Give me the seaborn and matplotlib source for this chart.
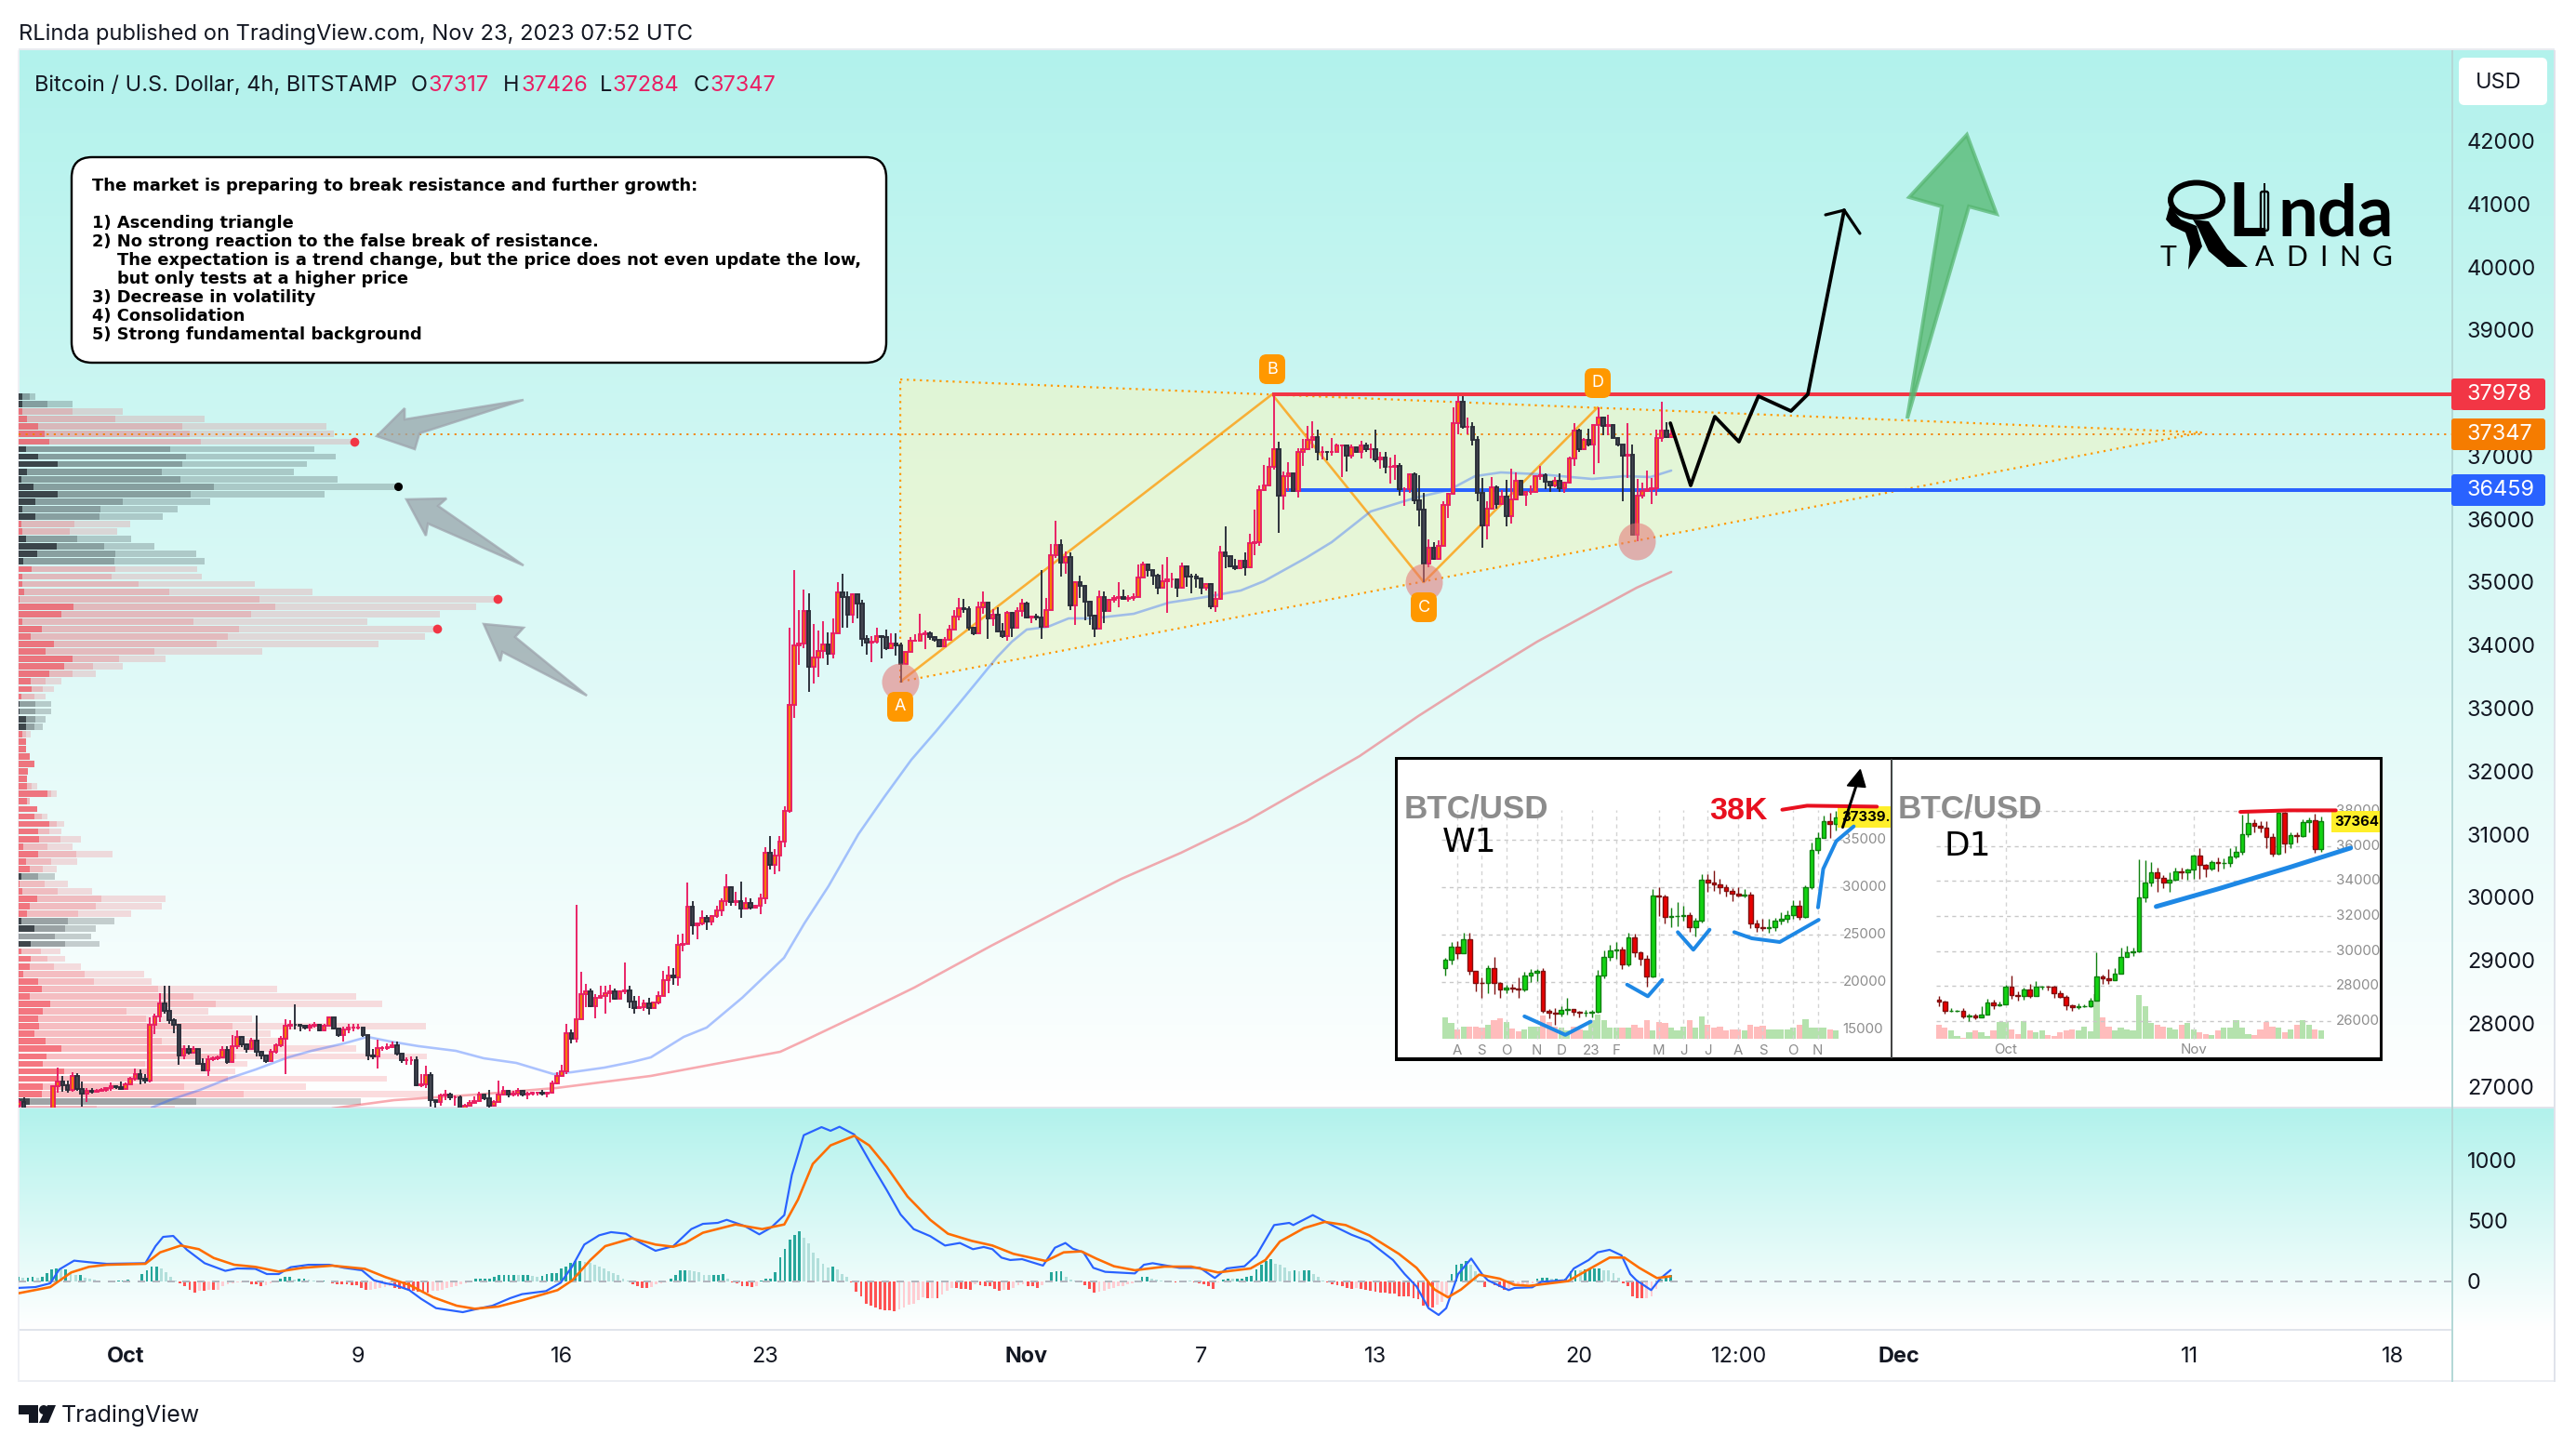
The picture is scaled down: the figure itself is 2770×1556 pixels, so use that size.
import numpy as np
import matplotlib
matplotlib.use("Agg")
import matplotlib.pyplot as plt
import seaborn as sns
from matplotlib.colors import LinearSegmentedColormap
from matplotlib.patches import FancyBboxPatch, Polygon, Ellipse, Rectangle
from matplotlib.transforms import Affine2D

W, H = 2770, 1556
PT = 0.72  # points per pixel at dpi 100

# ---- 4h candles (open = previous close)
closes = [
    26750, 26650, 26500, 26450, 26400, 26380, 26420,
    27000, 27083, 27024, 26950, 27162, 26965, 26880, 26925, 26920, 26935,
    26945, 26975, 27000, 26990, 26965, 27040, 27122, 27196, 27120, 27088,
    27983, 28116, 28313, 28195, 28057, 27983, 27491, 27590, 27540, 27590,
    27353, 27260, 27428, 27445, 27460, 27575, 27393, 27640, 27787, 27665,
    27600, 27722, 27555, 27490, 27410, 27555, 27650, 27762, 27960, 27982,
    27975, 27960, 27930, 27960, 27980, 27885, 27970, 28090, 27920, 27820,
    27900, 27935, 27935, 27940, 27820, 27490, 27477, 27610, 27610, 27625,
    27660, 27515, 27417, 27420, 27425, 27024, 27040, 27180, 26778, 26750,
    26860, 26870, 26825, 26835, 26650, 26700, 26740, 26770, 26867, 26815,
    26690, 26750, 26870, 26925, 26875, 26880, 26935, 26875, 26885, 26895,
    26895, 26885, 26895, 27050, 27170, 27245, 27850, 27762,
    28072, 28470, 28505, 28273, 28406, 28436, 28485, 28505, 28397, 28505,
    28520, 28347, 28250, 28259, 28313, 28250, 28333, 28436, 28692, 28766,
    28731, 29248, 29263, 29858, 29563, 29587, 29676, 29617, 29710, 29797,
    29934, 30158, 29922, 29934, 29823, 29912, 29833, 29863, 29986, 30709,
    30512, 30660, 30891, 31373, 33056, 33991, 34025, 34537, 33651, 33809,
    33907, 34005, 33858,
    34192, 34832, 34758, 34487, 34802, 34660, 34103, 34040, 34055, 34143,
    34123, 33946, 34030, 33995, 33700, 33897, 34064, 34074, 34177, 34182,
    34128, 34080, 33980, 34079, 34251, 34448, 34580, 34570, 34276, 34192,
    34605, 34669, 34423, 34487, 34212, 34143, 34507, 34276, 34546, 34654,
    34433, 34448, 34433, 34286, 34556, 35432, 35589, 35309, 35392, 34635,
    35000, 34940, 34684, 34472, 34261, 34767, 34537, 34718, 34743, 34767,
    34733, 34753, 34767, 35078, 35284, 35186, 35097, 34915, 35014, 35038,
    35040, 34915, 35245, 35087,
    35085, 35060, 34914, 34963, 34619, 34727, 35470, 35406, 35258, 35219,
    35332, 35234, 35617, 35637, 36454, 36538, 36823, 37103, 36375, 36685,
    36720, 36439, 37064, 37103, 37251, 37300, 37064, 37069, 37064, 37069,
    37162, 37167, 37000, 37138, 37064, 37162, 37103, 37113, 36946, 36980,
    36833, 36833, 36847, 36478, 36478, 36710, 36291, 36144, 35293, 35553,
    35371, 35578,
    36227, 36400, 37521, 37866, 37457, 37457, 37251, 36414, 35898, 36159,
    36498, 36242, 36355, 36045, 36316, 36611, 36380, 36424, 36424, 36675,
    36700, 36587, 36527, 36611, 36488, 36572, 36956, 37408, 37113, 37251,
    37187, 37487, 37605, 37472, 37497, 37290, 37177, 37005, 37015, 35750,
    36375, 36449, 36473, 36488, 37290, 37408, 37300, 37347,
]
highs = [
    26800, 26830, 26650, 26550, 26500, 26500, 26600,
    27020, 27294, 27162, 27088, 27220, 27210, 27075, 26975, 26975, 26960,
    26975, 26990, 27060, 27020, 27075, 27060, 27150, 27280, 27270, 27190,
    28100, 28156, 28480, 28592, 28600, 28080, 27990, 27660, 27650, 27640,
    27560, 27450, 27490, 27480, 27490, 27640, 27640, 27820, 27890, 27800,
    27680, 27770, 28125, 27560, 27480, 27590, 27680, 27800, 28060, 28050,
    28300, 27990, 27965, 28000, 28020, 27990, 28000, 28110, 28100, 27920,
    27950, 27990, 27990, 27990, 27930, 27790, 27590, 27740, 27640, 27690,
    27710, 27720, 27500, 27460, 27470, 27480, 27200, 27330, 27230, 26790,
    26890, 26940, 26900, 26865, 26860, 26730, 26780, 26850, 26920, 26870,
    26950, 26790, 27100, 27000, 26950, 26930, 26970, 26950, 26920, 26920,
    26920, 26950, 26920, 27090, 27220, 27340, 28000, 27900,
    29887, 28815, 28633, 28554, 28470, 28604, 28593, 28618, 28559, 28530,
    28972, 28603, 28430, 28431, 28372, 28411, 28340, 28515, 28830, 28913,
    28874, 29405, 29420, 30232, 29937, 29600, 29789, 29715, 29720, 29873,
    29986, 30365, 30178, 30084, 30247, 29996, 29986, 29880, 30055, 30793,
    30980, 30773, 30980, 31447, 34276, 35186, 34561, 34881, 34827, 34340,
    34227, 34374, 34202,
    34423, 35004, 35127, 34851, 34830, 34680, 34719, 34153, 34143, 34276,
    34163, 34241, 34192, 34192, 34044, 33900, 34128, 34177, 34497, 34227,
    34212, 34140, 34000, 34130, 34325, 34556, 34743, 34733, 34610, 34290,
    34684, 34851, 34680, 34571, 34605, 34350, 34546, 34530, 34596, 34733,
    34684, 34470, 34497, 35186, 34743, 35604, 35973, 35678, 35481, 35471,
    35020, 35097, 34950, 34704, 34480, 34866, 34851, 34730, 34793, 35004,
    34881, 34790, 34820, 35274, 35324, 35300, 35110, 35140, 35274, 35392,
    35146, 35040, 35309, 35260,
    35135, 35135, 35070, 34980, 34978, 34850, 35568, 35883, 35410, 35371,
    35340, 35470, 35765, 36144, 36537, 36857, 36980, 37979, 37226, 36759,
    36897, 36730, 37128, 37275, 37472, 37546, 37413, 37152, 37080, 37285,
    37202, 37180, 37170, 37177, 37140, 37241, 37210, 37200, 37413, 37064,
    37064, 36980, 37015, 36882, 36500, 36720, 36734, 36695, 36414, 35676,
    35640, 35666,
    36277, 36420, 37767, 37964, 37969, 37605, 37536, 37310, 36646, 36277,
    36660, 36527, 36454, 36621, 36793, 36734, 36620, 36440, 36537, 36690,
    36842, 36720, 36590, 36670, 36720, 36590, 36990, 37521, 37440, 37280,
    37438, 37500, 37767, 37620, 37654, 37510, 37300, 37190, 37521, 37177,
    36640, 36572, 36769, 36650, 37423, 37856, 37536, 37426,
]
lows = [
    26650, 26500, 26400, 26350, 26300, 26300, 26350,
    26500, 26900, 26916, 26900, 26916, 26925, 26680, 26755, 26880, 26900,
    26910, 26920, 26925, 26960, 26945, 26960, 27040, 27090, 27040, 27050,
    27060, 27836, 28020, 28150, 28000, 27850, 27340, 27432, 27500, 27530,
    27340, 27250, 27170, 27400, 27420, 27450, 27360, 27380, 27600, 27620,
    27530, 27590, 27470, 27430, 27370, 27410, 27520, 27620, 27190, 27900,
    27900, 27880, 27900, 27880, 27940, 27870, 27880, 27960, 27900, 27790,
    27720, 27850, 27880, 27900, 27790, 27420, 27430, 27290, 27570, 27580,
    27610, 27490, 27370, 27340, 27350, 27000, 26990, 26970, 26680, 26640,
    26700, 26790, 26790, 26700, 26600, 26630, 26690, 26720, 26790, 26790,
    26650, 26680, 26780, 26860, 26830, 26840, 26850, 26850, 26800, 26860,
    26860, 26860, 26830, 26880, 27040, 27160, 27200, 27680,
    27700, 28060, 28259, 28259, 28082, 28387, 28150, 28338, 28380, 28440,
    28470, 28250, 28160, 28240, 28200, 28140, 28240, 28308, 28436, 28485,
    28618, 28593, 29145, 29243, 29405, 29341, 29553, 29479, 29553, 29676,
    29700, 29873, 29873, 29873, 29676, 29809, 29809, 29820, 29735, 29897,
    30448, 30365, 30414, 30798, 31349, 32849, 33686, 33956, 33258, 33390,
    33499, 33784, 33686,
    33784, 34200, 34276, 34276, 34350, 34423, 33980, 33848, 33734, 34030,
    33793, 33930, 34000, 33833, 33405, 33690, 33890, 34050, 34060, 33941,
    34090, 34060, 33970, 33970, 34070, 34250, 34389, 34520, 34227, 34153,
    34190, 34497, 34103, 34300, 34200, 34113, 34064, 34128, 34270, 34448,
    34420, 34350, 34400, 34103, 34280, 34550, 35383, 35087, 35137, 34561,
    34325, 34743, 34399, 34325, 34128, 34250, 34349, 34530, 34669, 34605,
    34720, 34690, 34700, 34760, 35070, 35087, 34950, 34807, 34910, 34507,
    34915, 34768, 34900, 34925,
    34830, 34914, 34815, 34870, 34570, 34535, 34720, 35224, 35240, 35194,
    35200, 35100, 35220, 35421, 35578, 36440, 36520, 36783, 35785, 36154,
    36449, 36430, 36340, 36842, 37090, 37128, 36931, 36946, 36930, 37000,
    37060, 36670, 36759, 36960, 37050, 36965, 37070, 36956, 36906, 36798,
    36724, 36562, 36621, 36365, 36208, 36414, 36240, 35883, 35000, 35234,
    35360, 35360,
    35570, 36020, 36390, 37350, 37430, 37350, 37162, 36286, 35539, 35676,
    36150, 36159, 36230, 35888, 35922, 36300, 36370, 36208, 36390, 36410,
    36621, 36473, 36424, 36510, 36430, 36414, 36560, 36842, 37064, 37100,
    37150, 36710, 36882, 37325, 37335, 37280, 37160, 36282, 36650, 35750,
    35642, 36330, 36430, 36242, 36375, 37226, 37290, 37284,
]

# ---- moving averages
ma50_days = [0.9, 1.6, 2.56, 3.52, 4.48, 5.6, 6.4, 7.52, 8.32, 9.12, 10.08, 11.36, 12.32, 13.44,
             14.72, 15.35, 16.47, 17.43, 18.07, 19.2, 19.99, 21.21, 22.65, 23.35, 24.18, 25.21, 26.1,
             27.03, 27.86, 28.66, 29.37, 29.97, 30.49, 31.0, 31.73, 32.44, 33.27, 34.68, 35.89, 37.33,
             38.36, 39.16, 40.6, 41.49, 42.83, 44.4, 45.52, 46.42, 47.31, 48.66, 50.45, 51.57,
             52.46, 53.17]
ma50_vals = [26666, 26799, 26946, 27123, 27271, 27463, 27566, 27684, 27787, 27713, 27640, 27566,
             27448, 27374, 27197, 27227, 27300, 27389, 27463, 27787, 27935, 28407, 29041, 29587,
             30177, 31003, 31593, 32183, 32625, 33068, 33466, 33805, 34056, 34248, 34292, 34425,
             34425, 34498, 34675, 34778, 34867, 35015, 35383, 35634, 36121, 36342, 36460, 36681,
             36740, 36711, 36637, 36681, 36667, 36770]
ma200_days = [7.1, 9.24, 12.09, 14.81, 18.07, 22.52, 23.35, 25.3, 27.13, 29.78, 32.25, 34.26, 36.31,
              38.55, 40.4, 42.45, 44.47, 46.32, 48.56, 51.98, 53.17]
ma200_vals = [26651, 26784, 26873, 26976, 27168, 27551, 27728, 28156, 28569, 29233, 29823, 30295,
              30708, 31209, 31696, 32241, 32876, 33422, 34056, 34911, 35162]

# ---- volume profile, segment ends for each row (relative units, base 46)
profile_dark = [54, 56, 56, 67, 94, 108, 119, 63, 92, 141, 67, 52, 81, 139, 87, 56, 87, 52, 54, 63,
                137, 90, 58, 78, 56, 56, 60, 49, 179, 148, 54, 101, 76, 132, 112, 175, 155, 121, 76, 78,
                52, 49, 49, 65, 63, 56, 65, 65, 74, 85, 69, 67, 67, 116, 67, 90, 85, 119, 92, 96,
                58, 94, 65, 74, 52, 49, 54, 90, 72, 67, 52, 83, 46, 76, 52, 76, 72, 58,
                92, 101, 74, 123, 105, 92, 96, 85, 112, 148, 114, 105, 155, 140, 105, 101, 74, 50]
profile_mid = [72, 116, 175, 280, 441, 458, 486, 412, 450, 441, 390, 435, 517, 461, 298, 244, 240, 181, 170, 188,
               253, 280, 276, 278, 271, 336, 408, 627, 665, 605, 468, 578, 549, 524, 372, 287, 226, 177, 112, 105,
               83, 87, 87, 87, 85, 65, 65, 65, 74, 85, 69, 67, 78, 125, 74, 90, 101, 137, 121, 146,
               116, 184, 125, 105, 94, 108, 139, 246, 233, 190, 164, 157, 134, 159, 99, 116, 132, 204,
               228, 383, 468, 522, 305, 352, 562, 370, 392, 450, 570, 350, 360, 551, 444, 587, 473, 235]
profile_light = [87, 177, 296, 495, 788, 805, 850, 759, 809, 741, 710, 815, 955, 782, 508, 430, 394, 314, 284, 316,
                 372, 473, 493, 477, 488, 616, 753, 1195, 1149, 1060, 885, 1050, 1024, 914, 634, 401, 298, 233, 150, 132,
                 112, 125, 125, 110, 105, 76, 65, 65, 74, 85, 69, 67, 90, 137, 74, 90, 116, 155, 150, 195,
                 175, 273, 188, 137, 134, 164, 222, 401, 392, 316, 276, 233, 220, 240, 146, 157, 195, 349,
                 367, 668, 860, 921, 502, 609, 1028, 654, 690, 860, 1030, 596, 569, 934, 739, 1035, 871, 423]
profile_gray_rows = [0, 1, 7, 8, 9, 10, 11, 12, 13, 14, 15, 16, 19, 20, 21, 22, 41, 42, 43, 44, 64, 70, 71, 72, 73, 94]
profile_red_dots = [6, 27, 31]
profile_black_dots = [12]
profile_top_price = 37942
profile_bin = 118.9

# ---- levels and drawings on the price chart
level_red = 37978
level_blue = 36459
level_last = 37347
triangle_days = [26.65, 71.43, 26.65]
triangle_vals = [38215, 37375, 33421]
abcd_days = [26.65, 39.44, 44.66, 50.64]
abcd_vals = [33421, 37979, 35000, 37773]
circle_days = [26.65, 44.66, 52.0]
circle_vals = [33421, 35000, 35650]
path_days = [53.14, 53.84, 54.67, 55.50, 56.17, 57.29, 57.87, 59.12]
path_vals = [37522, 36534, 37625, 37227, 37950, 37714, 37979, 40900]
head_days = [58.48, 59.12, 59.66]
head_vals = [40826, 40900, 40531]
green_days = [61.29, 62.48, 61.36, 63.34, 64.36, 63.41]
green_vals = [37596, 40959, 41106, 42095, 40841, 40959]
gray_arrow_days = [[13.69, 9.60, 9.60, 8.64, 9.95, 10.11],
                   [13.69, 10.75, 11.04, 9.66, 10.33, 10.40],
                   [15.87, 13.40, 13.69, 12.32, 12.89, 12.96]]
gray_arrow_vals = [[37891, 37581, 37758, 37316, 37109, 37360],
                   [35265, 36209, 36327, 36313, 35737, 35929],
                   [33200, 34130, 34277, 34336, 33746, 33894]]
price_ticks = [42000, 41000, 40000, 39000, 38000, 37000, 36000, 35000, 34000, 33000, 32000, 31000,
               30000, 29000, 28000, 27000]

# ---- MACD
macd_days = [-3.69, -3.10, -2.59, -2.28, -1.77, -1.26, -0.65, 0.68, 1.03, 1.29, 1.64, 2.11, 2.72, 3.43,
             3.84, 4.46, 4.86, 5.27, 5.68, 6.29, 7.01, 7.52, 8.13, 8.54, 8.94, 9.25, 9.76, 10.17, 10.68,
             11.60, 12.21, 12.62, 13.23, 13.64, 14.46, 14.97, 15.37, 15.78, 16.29, 16.70, 17.21, 17.72,
             18.23, 18.84, 19.46, 19.86, 20.37, 20.68, 21.29, 21.80, 22.21, 22.66, 22.92, 23.33, 23.94,
             24.25, 24.56, 25.07, 25.68, 26.19, 26.66, 27.11, 27.68, 28.19, 28.70, 29.15, 29.52, 29.82,
             30.13, 30.43, 30.84, 31.56, 31.97, 32.33, 32.58, 32.95, 33.29, 33.70, 34.72, 35.03, 35.33,
             36.25, 36.96, 37.47, 37.88, 38.49, 38.90, 39.51, 40.03, 40.17, 40.84, 41.55, 42.17, 42.78,
             43.60, 44.00, 44.41, 44.82, 45.17, 45.43, 45.84, 46.29, 46.66, 46.86, 47.58, 47.78, 48.39,
             48.70, 49.52, 49.82, 50.33, 50.64, 51.05, 51.46, 51.76, 51.97, 52.48, 52.79, 53.15]
macd_vals = [-53, -46, -15, 99, 171, 158, 145, 150, 290, 366, 374, 260, 150, 87, 107, 104, 61, 61, 117,
             137, 137, 112, 92, 10, -15, -28, -71, -143, -219, -252, -219, -199, -137, -104, -79, -10, 125,
             303, 379, 405, 392, 316, 252, 290, 430, 473, 481, 506, 456, 387, 443, 545, 875, 1201, 1267,
             1237, 1270, 1206, 952, 748, 550, 430, 372, 295, 316, 265, 283, 265, 196, 176, 183, 130, 277,
             316, 270, 239, 112, 79, 66, 137, 150, 112, 112, 28, 107, 125, 214, 463, 481, 463, 545, 456,
             384, 328, 176, 61, -41, -219, -275, -219, 61, 188, 61, 10, -71, -53, -48, -3, 10, 107, 176,
             239, 260, 214, 61, 10, -71, 23, 94]
signal_days = [-3.69, -2.59, -1.87, -1.26, -0.65, 0.68, 1.19, 1.90, 2.52, 3.03, 3.74, 4.46, 5.27, 6.09,
               7.11, 8.23, 8.94, 9.76, 10.58, 11.39, 12.01, 12.82, 13.64, 14.86, 15.37, 15.99, 16.50,
               17.42, 18.23, 18.84, 19.25, 19.86, 20.98, 21.90, 22.66, 23.13, 23.64, 24.25, 25.07, 25.58,
               26.19, 26.90, 27.68, 28.29, 29.11, 29.82, 30.54, 31.66, 32.27, 32.88, 33.39, 34.0, 34.72,
               35.74, 36.66, 37.58, 38.70, 39.21, 39.71, 40.54, 41.25, 41.97, 42.78, 43.80, 44.41, 45.03,
               45.49, 45.94, 46.56, 47.27, 47.78, 48.29, 49.62, 50.33, 51.05, 51.56, 52.07, 52.68, 53.15]
signal_vals = [-97, -46, 74, 120, 137, 145, 239, 295, 265, 193, 137, 120, 81, 112, 130, 104, 36, -28,
               -130, -199, -224, -206, -155, -71, 10, 176, 290, 354, 303, 285, 316, 400, 468, 430, 468,
               672, 965, 1117, 1196, 1117, 939, 697, 506, 392, 333, 295, 227, 168, 239, 247, 188, 125, 92,
               122, 122, 74, 107, 176, 328, 438, 489, 463, 379, 227, 112, -66, -130, -66, 56, 23, -28, -36,
               3, 99, 196, 196, 112, 28, 43]
hist_vals = [40, 30, 30, 35, 30, 35, 70, 100, 105, 100, 100, 70, 50, 50, 30, 25, 15, 10, 3, 3, 5, 8, 8, 12,
             2, 3, 60, 90, 120, 125, 110, 80, 40, 5, -15, -35, -65, -90, -80, -80, -70, -70, -65, -40, -25,
             -15, -10, -5, -8, -25, -25, -35, -30, -12, -5, 20, 35, 35, 15, 20, 20, 15, 10, 10, 10, 0, -15,
             -25, -25, -25, -30, -30, -50, -70, -65, -60, -50, -45, -40, -50, -60, -60, -70, -80, -85, -85,
             -90, -80, -75, -70, -55, -45, -35, -25, -15, -5, 20, 20, 20, 25, 35, 50, 50, 55, 55, 50, 50, 50,
             45, 40, 45, 60, 70, 70, 105, 120, 150, 170, 170, 160, 150, 135, 125, 110, 85, 70, 50, 20, 10,
             -20, -35, -50, -55, -45, -25, -15, -5, 25, 50, 95, 95, 90, 85, 75, 55, 50, 55, 55, 60, 20, -10,
             -15, -35, -40, -45, -40, 5, 25, 25, 80, 195, 270, 340, 380, 410, 360, 310, 240, 190, 145, 115,
             120, 100, 60, 40, -5, -85, -120, -180, -200, -210, -230, -235, -240, -245, -230, -210, -190,
             -180, -150, -130,
             -140, -135, -140, -110, -75, -50, -55, -60, -60, -70, -25, -30, -35, -40, -60, -75, -70, -70,
             -50, -30, -25, -35, -40, -50, -30, 10, 75, 85, 85, 35, 15, 10, -5, -30, -60, -90, -85, -75, -60,
             -50, -40, -35, -25, -15, -5, 40, 40, 25, 15, 10, 5, 3, -10, 10, 10, 5, -5, -15, -20, -40, -60,
             -5, 15, 25, 20, 20, 25, 40, 45, 100, 140, 165, 185, 145, 135, 115, 85, 90, 85, 90, 90, 60, 40,
             10, -10, -20, -30, -35, -55, -60, -55, -60, -65, -75, -85, -90, -95, -100, -100, -120, -125,
             -125, -140, -145, -195, -205, -210, -190, -170, -130, 60, 140, 145, 165, 140, 85, -10, -45, -10,
             -30, -45, -65, -60, -40, -30, -25, -20, -15, 20, 30, 30, 25, 25, 15, 25, 85, 95, 90, 100, 105,
             110, 110, 95, 90, 65, 30, -15, -40, -125, -140, -140, -135, -120, -60, 15, 45, 50]
hist_first_day = -3.69
hist_last_day = 53.15
macd_ticks = [1000, 500, 0]
time_days = [0, 8, 15, 22, 31, 37, 43, 50, 55.5, 61, 71, 78]
time_labels = ["Oct", "9", "16", "23", "Nov", "7", "13", "20", "12:00", "Dec", "11", "18"]
time_bold = ["Oct", "Nov", "Dec"]

# ---- weekly inset
w1_first_open = 21450
w1_closes = [22325, 23725, 23080, 24500, 21190, 19950, 19900, 21460, 19950, 19240,
             19400, 19350, 19200, 20700, 21000, 21200, 16960, 16800, 16650, 17100,
             17200, 16900, 16750, 16800, 16900, 20700, 22700, 23300, 23450, 21900,
             24700, 23100, 22500, 20600, 29150, 29000, 26900, 27000, 27000, 27100,
             25750, 26450, 30750, 30450, 30300, 30000, 29650, 29300, 29150, 29250,
             26200, 25800, 25700, 25750, 26450, 26700, 27100, 28000, 26900, 30000,
             33950, 35200, 36950, 36700, 37300]
w1_highs = [22600, 24200, 24300, 25200, 25200, 20400, 20500, 21800, 22700, 20000,
            19700, 19800, 20500, 21100, 21400, 21400, 21500, 17200, 17300, 17500,
            18300, 17200, 17000, 17100, 17100, 21300, 23300, 23900, 24200, 23700,
            25200, 25100, 23200, 22800, 29800, 30000, 29200, 27800, 28400, 28000,
            27400, 26800, 31400, 31400, 31800, 30900, 30300, 29900, 30000, 29800,
            29500, 26600, 26700, 26700, 26800, 27400, 27500, 28600, 28600, 30200,
            34700, 35800, 37500, 37800, 38000]
w1_lows = [20700, 21900, 22500, 23000, 20800, 19000, 18300, 18800, 18700, 18300,
           18800, 18900, 18300, 19000, 20000, 20100, 16800, 16200, 15500, 16400,
           16600, 16500, 16300, 16400, 16300, 16800, 20400, 22300, 22500, 21400,
           21700, 22700, 21800, 19500, 20500, 27000, 26200, 25800, 25900, 26500,
           25300, 24800, 26300, 29500, 29600, 29300, 29000, 28500, 29000, 28900,
           25700, 25300, 25400, 25200, 25400, 26100, 26300, 26700, 26600, 26800,
           29800, 33500, 35500, 35200, 36000]
w1_volume = [68, 52, 30, 38, 38, 38, 36, 46, 60, 65, 55, 32, 22, 30, 40, 40, 75, 55, 40, 35, 25, 38, 30, 25,
             60, 78, 60, 35, 35, 35, 35, 45, 35, 60, 25, 55, 50, 35, 28, 40, 60, 35, 72, 45, 35, 38, 28, 30,
             30, 28, 45, 38, 42, 30, 30, 30, 30, 35, 45, 62, 35, 35, 35, 30, 28]
w1_price_ticks = [35000, 30000, 25000, 20000, 15000]
w1_time_idx = [2, 6, 10, 15, 19, 24, 28, 35, 39, 43, 48, 52, 57, 61]
w1_time_labels = ["A", "S", "O", "N", "D", "23", "F", "M", "J", "J", "A", "S", "O", "N"]
w1_blue_idx = [[12.98, 19.68, 23.83], [29.79, 33.19, 35.53], [38.09, 40.64, 43.30],
               [47.34, 50.21, 54.79, 61.17], [61.06, 61.91, 64.04, 66.91]]
w1_blue_vals = [[16395, 14447, 15843], [19739, 18505, 20226], [25259, 23408, 25519],
                [25259, 24610, 24220, 26558], [27857, 31915, 34838, 36396]]
w1_red_idx = [55.2, 59.26, 70.7]
w1_red_vals = [38150, 38572, 38474]
w1_arrow_idx = [65.1, 67.98]
w1_arrow_vals = [36300, 42000]
w1_head_idx = [65.85, 67.98, 68.83]
w1_head_vals = [40682, 42371, 40520]

# ---- daily inset
d1_first_open = 27200
d1_closes = [27130, 26570, 26580, 26580, 26250, 26300, 26220, 26370, 27030, 26910, 26970,
             27980, 27500, 27430, 27790, 27410, 27930, 27960, 27930, 27590, 27390, 26870, 26760, 26860,
             26860, 27160, 28520, 28410, 28330, 28720, 29680, 29920, 29990, 33080, 33900, 34500, 34150,
             33900, 34080, 34530, 34490, 34650,
             35440, 34940, 34730, 35080, 35040, 35050, 35420, 35640, 36700, 37300, 37130, 37060, 36490,
             35550, 37880, 36160, 36600, 36570, 37380, 37470, 35800, 37400]
d1_highs = [27400, 27160, 26740, 26640, 26720, 26430, 26420, 26830, 27240, 27230, 27090,
            28060, 28600, 27680, 27880, 28140, 28290, 28030, 28030, 28000, 27740, 27480, 26960, 26980,
            26950, 27300, 29925, 28620, 28990, 29000, 30200, 30300, 30200, 35214, 35200, 35100, 34750,
            34350, 34470, 34740, 34750, 34720,
            35500, 35900, 34950, 35200, 35360, 35280, 35900, 36000, 37800, 37950, 37500, 37400, 37400,
            36750, 37960, 37960, 36800, 36800, 37500, 37650, 37860, 37700]
d1_lows = [26850, 26400, 26500, 26500, 26140, 26000, 26100, 26200, 26350, 26680, 26850,
           26950, 27250, 27150, 27200, 27300, 27490, 27800, 27720, 27300, 27300, 26600, 26560, 26700,
           26800, 26810, 27900, 28100, 28100, 28400, 29480, 29700, 29700, 29900, 32800, 33700, 33400,
           33570, 33400, 34000, 34100, 34080,
           34100, 34100, 34250, 34600, 34550, 34700, 34800, 35300, 35500, 36500, 36800, 36800, 35900,
           35400, 35500, 35600, 35900, 36200, 36500, 36800, 35600, 35650]
d1_volume = [45, 35, 25, 8, 3, 20, 28, 20, 8, 28, 55,
             55, 30, 15, 58, 25, 20, 28, 12, 8, 20, 25, 30, 25, 38, 22, 145, 70, 40, 25, 35, 30, 25, 142,
             105, 50, 45, 40, 35, 30, 45, 50,
             30, 20, 15, 10, 25, 35, 35, 60, 35, 15, 10, 30, 55, 40, 35, 20, 30, 45, 60, 45, 30, 25]
d1_price_ticks = [38000, 36000, 34000, 32000, 30000, 28000, 26000]
d1_time_idx = [11, 42]
d1_time_labels = ["Oct", "Nov"]
d1_blue_idx = [35.83, 46, 57.8, 67.9]
d1_blue_vals = [32535, 33540, 34774, 35884]
d1_red_idx = [49.7, 57.75, 65.45]
d1_red_vals = [37947, 38035, 38035]

# ---- text
header = "RLinda published on TradingView.com, Nov 23, 2023 07:52 UTC"
note_lines = ["The market is preparing to break resistance and further growth:",
              "1) Ascending triangle",
              "2) No strong reaction to the false break of resistance.",
              "The expectation is a trend change, but the price does not even update the low,",
              "but only tests at a higher price",
              "3) Decrease in volatility",
              "4) Consolidation",
              "5) Strong fundamental background"]
note_rows = [199, 239, 259, 279, 299, 319, 339, 359]
note_left = [99, 99, 99, 126, 126, 99, 99, 99]

sns.set_theme(style="white")
plt.rcParams["font.family"] = ["Inter", "DejaVu Sans"]
INK = "#131722"

fig = plt.figure(figsize=(W / 100, H / 100), dpi=100, facecolor="white")
px_tf = Affine2D().scale(1, -1).translate(0, H)


def pane(x0, y0, x1, y1, **kw):
    return fig.add_axes([x0 / W, 1 - y1 / H, (x1 - x0) / W, (y1 - y0) / H], **kw)


def label(x, y, s, size=23.5, color=INK, ha="left", va="center", zorder=6, **kw):
    return fig.text(x / W, 1 - y / H, s, fontsize=size * PT, color=color, ha=ha, va=va, zorder=zorder, **kw)


def pill(x0, y0, x1, y1, color, r=4, ec="none", lw=0, zorder=5):
    p = FancyBboxPatch((x0 + r, y0 + r), x1 - x0 - 2 * r, y1 - y0 - 2 * r,
                       boxstyle=f"round,pad={r},rounding_size={r}", transform=px_tf,
                       fc=color, ec=ec, lw=lw, zorder=zorder)
    fig.add_artist(p)


def shape(points, color="black", zorder=5):
    fig.add_artist(Polygon(points, closed=True, transform=px_tf, fc=color, ec="none", zorder=zorder))


def stroke(ax, xs, ys, color, lw, **kw):
    sns.lineplot(x=xs, y=ys, ax=ax, color=color, linewidth=lw * PT, sort=False,
                 estimator=None, errorbar=None, **kw)


def candles(ax, xs, opens, closes_, highs_, lows_, width, up_face, up_edge, down_face, down_edge, lw, zorder):
    xs = np.asarray(xs)
    o, c = np.asarray(opens, float), np.asarray(closes_, float)
    hi = np.maximum(np.asarray(highs_, float), np.maximum(o, c))
    lo = np.minimum(np.asarray(lows_, float), np.minimum(o, c))
    up = c >= o
    for mask, face, edge in [(up, up_face, up_edge), (~up, down_face, down_edge)]:
        ax.vlines(xs[mask], lo[mask], hi[mask], colors=edge, linewidth=lw * PT, zorder=zorder)
        ax.bar(xs[mask], (c - o)[mask], bottom=o[mask], width=width, facecolor=face,
               edgecolor=edge, linewidth=lw * PT, zorder=zorder + 0.1)


# background gradients run under the price scale too
grad = LinearSegmentedColormap.from_list("pane", ["#b2f2ec", "#ffffff"])
for y0, y1 in [(54, 1191), (1192, 1430)]:
    bg = pane(20, y0, 2747, y1)
    bg.imshow(np.linspace(0, 1, 256)[:, None], aspect="auto", cmap=grad, vmin=0, vmax=1)
    bg.axis("off")

XLIM = (-3.68, 80.04)
ax = pane(20, 54, 2637, 1191, zorder=1)
ax.patch.set_visible(False)
ax.set_xlim(*XLIM)
YLIM = (26666, 43437)

# volume profile on its own x scale, same price scale
prof = ax.twiny()
prof.patch.set_visible(False)
prof.set_xlim(46, 46 + 2617 * 2.24)
prof.set_ylim(*YLIM)
row_price = profile_top_price - profile_bin * np.arange(len(profile_dark))
row_gray = np.isin(np.arange(len(profile_dark)), profile_gray_rows)
dark = np.asarray(profile_dark, float)
mid = np.asarray(profile_mid, float)
light = np.asarray(profile_light, float)
for mask, col, alphas in [(~row_gray, "#f23645", (0.68, 0.32, 0.17)), (row_gray, "#20262c", (0.85, 0.42, 0.22))]:
    prof.barh(row_price[mask], dark[mask] - 46, left=46, height=profile_bin * 0.84, color=col, alpha=alphas[0], lw=0)
    prof.barh(row_price[mask], mid[mask] - dark[mask], left=dark[mask], height=profile_bin * 0.84, color=col,
              alpha=alphas[1], lw=0)
    prof.barh(row_price[mask], light[mask] - mid[mask], left=mid[mask], height=profile_bin * 0.84, color=col,
              alpha=alphas[2], lw=0)
prof.scatter(light[profile_red_dots] + 5, row_price[profile_red_dots], s=(8.5 * PT) ** 2 * 1.3, color="#f23645", lw=0)
prof.scatter(light[profile_black_dots] + 5, row_price[profile_black_dots], s=(8 * PT) ** 2 * 1.3, color="black", lw=0)
prof.set_xticks([])
for s in prof.spines.values():
    s.set_visible(False)

ax.set_zorder(2)
prof.set_zorder(1)

# triangle and pattern
ax.fill(triangle_days, triangle_vals, color="#fff5b1", alpha=0.42, lw=0, zorder=1)
ax.plot(triangle_days + triangle_days[:1], triangle_vals + triangle_vals[:1], color="#ff9800",
        lw=2.2 * PT, ls=(0, (1, 2.2)), zorder=2)
ax.plot(XLIM, [level_last, level_last], color="#f57c00", lw=1.8 * PT, ls=(0, (1.2, 3)), zorder=3)
stroke(ax, abcd_days, abcd_vals, "#ff9800", 2.6, alpha=0.75, zorder=3)
stroke(ax, ma50_days, ma50_vals, "#2962ff", 2.6, alpha=0.38, zorder=3)
stroke(ax, ma200_days, ma200_vals, "#f23645", 2.6, alpha=0.42, zorder=3)
ax.plot([39.44, XLIM[1]], [level_red, level_red], color="#f23645", lw=4 * PT, zorder=7, solid_capstyle="butt")
ax.plot([39.85, XLIM[1]], [level_blue, level_blue], color="#2962ff", lw=4 * PT, zorder=3.5, solid_capstyle="butt")

# candles
n_bars = len(closes)
bar_days = 53.167 - (n_bars - 1 - np.arange(n_bars)) / 6
opens = [closes[0] - 50] + closes[:-1]
candles(ax, bar_days, opens, closes, highs, lows, 0.115, "#f57c00", "#e91e63", "#434651", "#2a2e39", 1.9, 4)

ax.scatter(circle_days, circle_vals, s=(40 * PT) ** 2, color="#e57373", alpha=0.55, lw=0, zorder=6)
stroke(ax, path_days, path_vals, "black", 3.8, zorder=8)
stroke(ax, head_days, head_vals, "black", 3.2, zorder=8)
ax.fill(green_days, green_vals, facecolor="#4fb56a", edgecolor="#55b56f", alpha=0.72, lw=4 * PT, zorder=8)
for ad, av in zip(gray_arrow_days, gray_arrow_vals):
    ax.fill(ad, av, facecolor="#9aa5ab", edgecolor="#9ea4ad", alpha=0.75, lw=2.5 * PT, zorder=8)

ax.set_ylim(*YLIM)
ax.set_xlim(*XLIM)
ax.yaxis.tick_right()
ax.set_yticks(price_ticks)
ax.set_yticklabels([str(v) for v in price_ticks], fontsize=23.5 * PT, color=INK)
ax.tick_params(axis="y", length=0, pad=16 * PT, right=False)
ax.set_xticks([])
for s in ax.spines.values():
    s.set_visible(False)

# MACD pane
mc = pane(20, 1192, 2637, 1430, zorder=1)
mc.patch.set_visible(False)
h = np.asarray(hist_vals, float)
hd = np.linspace(hist_first_day, hist_last_day, len(h))
prev = np.r_[h[0], h[:-1]]
hist_colors = np.where(h >= 0, np.where(h >= prev, "#26a69a", "#b2dfdb"),
                       np.where(h <= prev, "#ff5252", "#ffcdd2"))
mc.bar(hd, h, width=0.09, color=hist_colors, lw=0, zorder=1)
mc.plot(XLIM, [0, 0], color="#b2b5be", lw=2 * PT, ls=(0, (4, 4)), zorder=2)
stroke(mc, macd_days, macd_vals, "#2962ff", 2.2, zorder=3)
stroke(mc, signal_days, signal_vals, "#ff6d00", 2.6, zorder=4)
mc.set_xlim(*XLIM)
mc.set_ylim(-397, 1420)
mc.yaxis.tick_right()
mc.set_yticks(macd_ticks)
mc.set_yticklabels([str(v) for v in macd_ticks], fontsize=23.5 * PT, color=INK)
mc.tick_params(axis="y", length=0, pad=16 * PT, right=False)
mc.set_xticks(time_days)
mc.set_xticklabels(time_labels, fontsize=23.5 * PT, color=INK)
for tick, name in zip(mc.get_xticklabels(), time_labels):
    if name in time_bold:
        tick.set_fontweight("bold")
mc.tick_params(axis="x", length=0, pad=18 * PT, bottom=False)
for s in mc.spines.values():
    s.set_visible(False)

# chrome lines
for (x0, y0, x1, y1, col) in [(20, 1190, 2747, 1192, "#e0e3eb"), (20, 1429, 2638, 1431, "#e0e3eb"),
                              (20, 1484, 2747, 1486, "#eceef3"), (20, 52, 2747, 54, "#e8ebf0"),
                              (2636, 54, 2638, 1486, "#b4d8d6"), (2746, 54, 2748, 1486, "#e0e3eb"),
                              (19, 54, 21, 1486, "#eef0f4")]:
    fig.add_artist(Rectangle((x0, y0), x1 - x0, y1 - y0, transform=px_tf, fc=col, ec="none", zorder=0.5))

# text header
label(20, 37, header, size=23.7)
label(37, 92, "Bitcoin / U.S. Dollar, 4h, BITSTAMP")
for x, s, col in [(442, "O", INK), (460, "37317", "#e91e63"), (541, "H", INK), (560, "37426", "#e91e63"),
                  (645, "L", INK), (659, "37284", "#e91e63"), (746, "C", INK), (764, "37347", "#e91e63")]:
    label(x, 92, s, color=col)

# note box
pill(77, 169, 953, 390, "white", r=22, ec="black", lw=2.4 * PT, zorder=5)
for s, yy, xx in zip(note_lines, note_rows, note_left):
    label(xx, yy + 1, s, size=17.9, family="DejaVu Sans", fontweight="bold", color="black")

# scale tags
pill(2644, 62, 2739, 113, "white", r=6)
label(2662, 89, "USD", color=INK)
for y0, col, s in [(407, "#f23645", "37978"), (450, "#f57c00", "37347"), (510, "#2962ff", "36459")]:
    pill(2636, y0, 2737, y0 + 34, col, r=3)
    label(2653, y0 + 17, s, color="white")

# pattern letters
for x, yc, s in [(968, 760, "A"), (1368, 397, "B"), (1531, 653, "C"), (1718, 412, "D")]:
    pill(x - 14, yc - 16, x + 14, yc + 16, "#ff9800", r=8)
    label(x, yc, s, size=18, color="white", ha="center")

# logo
fig.add_artist(Ellipse((2362, 215), 56, 37, transform=px_tf, fc="none", ec="black", lw=6 * PT, zorder=5))
shape([(2358, 236), (2375, 238), (2395, 268), (2417, 287), (2395, 287), (2375, 270), (2364, 246)])
shape([(2333, 222), (2345, 236), (2362, 243), (2368, 265), (2353, 290), (2355, 265), (2350, 250), (2335, 243),
       (2329, 236)])
label(2396, 254, "L", size=80, color="black", va="baseline", family="Lato", fontweight="bold")
label(2449, 254, "nda", size=76, color="black", va="baseline", family="Lato", fontweight="bold")
pill(2431, 206, 2439, 248, "none", r=2, ec="black", lw=2.4 * PT)
fig.add_artist(Rectangle((2434, 197), 2, 57, transform=px_tf, fc="black", ec="none", zorder=5))
for x, s in [(2331, "T"), (2435, "A"), (2470, "D"), (2498, "I"), (2527, "N"), (2562, "G")]:
    label(x, 277, s, size=30, color="black", ha="center", family="Lato")

# TradingView footer
shape([(20, 1511), (41, 1511), (41, 1530), (31, 1530), (31, 1521), (20, 1521)], color=INK)
fig.add_artist(Ellipse((47, 1516), 10, 10, transform=px_tf, fc=INK, ec="none", zorder=5))
shape([(51, 1511), (60, 1511), (52, 1530), (42, 1530)], color=INK)
label(66, 1522, "TradingView", size=25, color=INK)

# ---- insets
GREY = "#8c8c8c"
inset_kw = dict(facecolor="white", zorder=3)
UP_F, UP_E, DN_F, DN_E = "#12d312", "#0f7f0f", "#e80000", "#7f1010"

w1 = pane(1503, 816, 2034, 1140, **inset_kw)
w1x = np.arange(len(w1_closes))
w1.hlines(w1_price_ticks[:-1], -0.6, 66, colors="#c8c8c8", linestyles=(0, (3, 3)), linewidth=1.4 * PT, zorder=1)
w1.vlines(w1_time_idx, 14057, 38085, colors="#d4d4d4", linestyles=(0, (3, 3)), linewidth=1.4 * PT, zorder=1)
w1_open = [w1_first_open] + w1_closes[:-1]
candles(w1, w1x, w1_open, w1_closes, w1_highs, w1_lows, 0.72, UP_F, UP_E, DN_F, DN_E, 1.4, 3)
for bx, by in zip(w1_blue_idx, w1_blue_vals):
    stroke(w1, bx, by, "#1e88e5", 4, zorder=5)
stroke(w1, w1_red_idx, w1_red_vals, "#e8101f", 4, zorder=5)
stroke(w1, w1_arrow_idx, w1_arrow_vals, "black", 3, zorder=6)
w1.fill(w1_head_idx, w1_head_vals, color="black", zorder=6)
w1.set_xlim(-7.77, 73.1)
w1.set_ylim(11784, 43507)
w1.set_xticks([])
w1.set_yticks([])
w1v = w1.twinx()
w1v.set_ylim(-70, 907)
w1v.bar(w1x, w1_volume, width=0.95, lw=0, zorder=1,
        color=np.where(np.array(w1_closes) >= np.array(w1_open), "#b4e2ad", "#ffbcbc"))
w1v.set_yticks([])
w1v.set_zorder(3)
w1.set_zorder(3.1)
w1.patch.set_visible(False)
w1v.patch.set_visible(True)
w1v.patch.set_facecolor("white")
for t in w1_price_ticks:
    w1.text(65.1, t, str(t), fontsize=15 * PT, color=GREY, va="center", ha="left")
for i, s in zip(w1_time_idx, w1_time_labels):
    w1.text(i, 12800, s, fontsize=15 * PT, color=GREY, ha="center", va="center")
w1.text(-6.7, 38182, "BTC/USD", fontsize=35 * PT, color=GREY, fontweight="bold", va="center",
        family="Liberation Sans")
w1.text(3.9, 34675, "W1", fontsize=36 * PT, color="black", ha="center", va="center", family="DejaVu Sans")
w1.text(48.1, 38020, "38K", fontsize=34 * PT, color="#e8101f", ha="center", va="center", fontweight="bold",
        family="Liberation Sans")
w1.text(64.9, 37370, "37339.", fontsize=15 * PT, color="black", fontweight="bold", va="center", ha="left",
        clip_on=True, bbox=dict(facecolor="#ffef2a", edgecolor="none", pad=3), zorder=4)

d1 = pane(2036, 816, 2559, 1140, **inset_kw)
d1x = np.arange(len(d1_closes))
d1.hlines(d1_price_ticks, -0.5, 65, colors="#c8c8c8", linestyles=(0, (3, 3)), linewidth=1.4 * PT, zorder=1)
d1.vlines(d1_time_idx, 24989, 38000, colors="#d4d4d4", linestyles=(0, (3, 3)), linewidth=1.4 * PT, zorder=1)
d1_open = [d1_first_open] + d1_closes[:-1]
candles(d1, d1x, d1_open, d1_closes, d1_highs, d1_lows, 0.72, UP_F, UP_E, DN_F, DN_E, 1.4, 3)
stroke(d1, d1_blue_idx, d1_blue_vals, "#1e88e5", 5, zorder=5)
stroke(d1, d1_red_idx, d1_red_vals, "#e8101f", 4, zorder=5)
d1.set_xlim(-7.49, 72.7)
d1.set_ylim(23755, 40980)
d1.set_xticks([])
d1.set_yticks([])
d1v = d1.twinx()
d1v.set_ylim(-70, 907)
d1v.bar(d1x, d1_volume, width=0.95, lw=0, zorder=1,
        color=np.where(np.array(d1_closes) >= np.array(d1_open), "#b4e2ad", "#ffbcbc"))
d1v.set_yticks([])
d1v.set_zorder(3)
d1.set_zorder(3.1)
d1.patch.set_visible(False)
d1v.patch.set_visible(True)
d1v.patch.set_facecolor("white")
for t in d1_price_ticks:
    d1.text(65.5, t, str(t), fontsize=15 * PT, color=GREY, va="center", ha="left")
for i, s in zip(d1_time_idx, d1_time_labels):
    d1.text(i, 24360, s, fontsize=15 * PT, color=GREY, ha="center", va="center")
d1.text(-6.74, 38088, "BTC/USD", fontsize=35 * PT, color=GREY, fontweight="bold", va="center",
        family="Liberation Sans")
d1.text(4.8, 36008, "D1", fontsize=36 * PT, color="black", ha="center", va="center", family="DejaVu Sans")
d1.text(65.3, 37383, "37364.", fontsize=15 * PT, color="black", fontweight="bold", va="center", ha="left",
        clip_on=True, bbox=dict(facecolor="#ffef2a", edgecolor="none", pad=3), zorder=4)

for a in (w1, w1v, d1, d1v):
    for s in a.spines.values():
        s.set_visible(False)

# frame of the inset
for (x0, y0, x1, y1, col) in [(1501, 814, 2561, 817, "black"), (1501, 1137, 2561, 1141, "black"),
                              (1500, 814, 1503, 1141, "black"), (2559, 814, 2562, 1141, "black"),
                              (2033, 816, 2035, 1138, "#444444")]:
    fig.add_artist(Rectangle((x0, y0), x1 - x0, y1 - y0, transform=px_tf, fc=col, ec="none", zorder=6))

fig.savefig("out.png", dpi=100, facecolor="white")
